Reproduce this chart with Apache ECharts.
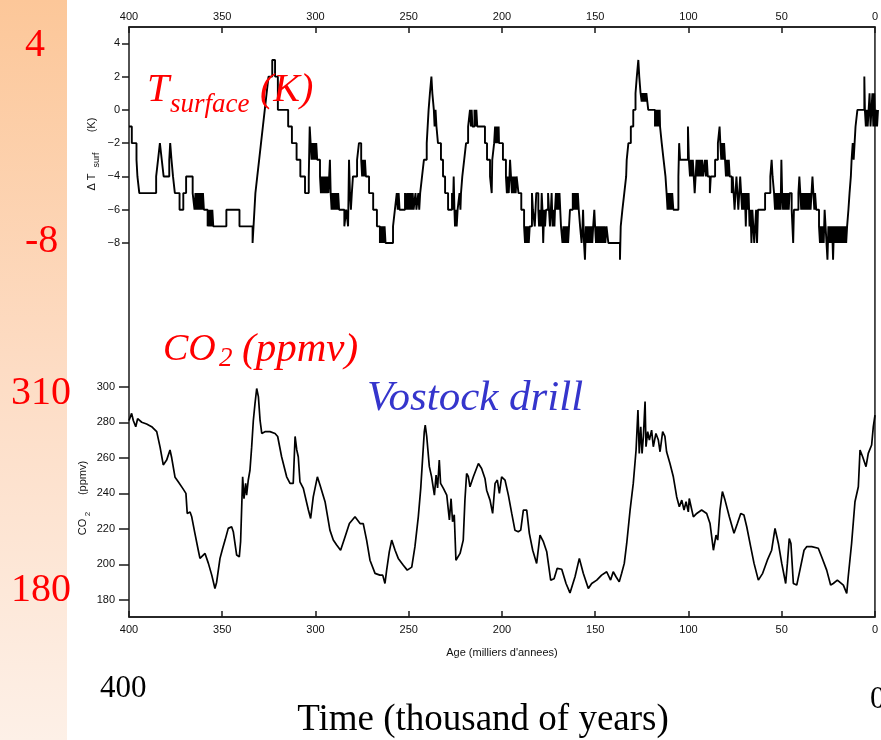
<!DOCTYPE html>
<html>
<head>
<meta charset="utf-8">
<script src="https://cdn.jsdelivr.net/npm/echarts@6/dist/echarts.min.js"></script>
<style>
  html, body { margin: 0; padding: 0; background: #ffffff; }
  #chart { width: 881px; height: 740px; }
</style>
</head>
<body>
<div id="chart"></div>
<script>
// Axis ranges and tick values
const ageTicks = [400, 350, 300, 250, 200, 150, 100, 50, 0];
const tempTicks = [-8, -6, -4, -2, 0, 2, 4];
const co2Ticks = [180, 200, 220, 240, 260, 280, 300];

// Vostok surface temperature anomaly, K, as steps: [age (kyr BP), value from that age onward]
const tempSteps = [
  [400,-1],[398.5,-2],[396,-3],[395.5,-4],[394.5,-5],[385.5,-4],[384.5,-3],[383.5,-2],[382.5,-3],[381.5,-4],
  [378.5,-3],[378,-2],[377.3,-3],[376.5,-4],[375.5,-5],[373,-6],[371,-5],[369.5,-4],[366,-5],[365,-6],
  [364.5,-5],[364,-6],[363.5,-5],[363,-6],[362.5,-5],[362,-6],[361.5,-5],[361,-6],[360.5,-5],[360,-6],
  [358,-7],[357.5,-6],[357,-7],[356.5,-6],[356,-7],[355.5,-6],[355,-7],[348,-6],[341,-7],[334,-8],
  [333,-6],[332.5,-5],[331.5,-4],[330.5,-3],[329.5,-2],[328.5,-1],[327.5,0],[326.5,1],[325.5,2],[323.5,3],
  [322,2],[320.5,0],[315,-1],[313,-2],[310.5,-3],[308.5,-4],[306,-5],[304,-4],[303.5,-1],[303,-2],
  [302.5,-3],[302,-2],[301.5,-3],[301,-2],[300.5,-3],[300,-2],[299.5,-3],[298,-4],[297.5,-5],[297,-4],
  [296.5,-5],[296,-4],[295.5,-5],[295,-4],[294.5,-5],[294,-4],[293.5,-5],[292.7,-3],[292.3,-5],[291.8,-6],
  [291.3,-5],[290.8,-6],[290.3,-5],[289.8,-6],[289.3,-5],[288.8,-6],[288.3,-5],[287.8,-6],[285,-7],[284,-6],
  [283,-7],[282.5,-3],[282,-5],[281.5,-6],[281,-5],[280.4,-4],[278.2,-3],[277.2,-2],[276,-3],[275.5,-4],
  [275,-3],[274.5,-4],[274,-3],[273.5,-4],[271.8,-5],[269.6,-6],[267.6,-7],[266,-8],[265.5,-7],[265,-8],
  [264.5,-7],[264,-8],[263.5,-7],[263,-8],[259,-7],[258,-6],[257,-5],[256.5,-6],[256,-5],[255.5,-6],
  [252.6,-5],[252,-6],[251.5,-5],[251,-6],[250.5,-5],[250,-6],[249.5,-5],[249,-6],[248.5,-5],[248,-6],
  [247,-5],[246.5,-6],[245.5,-5],[245,-6],[244.5,-5],[243.5,-4],[242.5,-3],[241,-2],[240,0],[239.3,1],
  [238.5,2],[238,1],[237.2,0],[236.8,-1],[236.3,0],[235.8,-1],[235,-2],[233.4,-3],[232.3,-4],[231.2,-5],
  [229.6,-6],[227.5,-5],[227,-6],[226.6,-4],[226.2,-6],[225.9,-7],[225.4,-6],[225,-7],[224.5,-6],[223.5,-5],
  [223,-6],[222.7,-5],[222,-4],[221,-3],[220,-2],[218.9,-1],[217.9,0],[217.4,-1],[217,0],[216.6,-1],
  [215.5,0],[215,-1],[214.5,0],[214,-1],[209.9,-2],[208.8,-3],[207.2,-4],[206.3,-5],[206,-3],[205,-2],
  [204.5,-1],[204,-2],[203.5,-1],[203,-2],[202.6,-1],[202.4,-2],[200.3,-3],[198.7,-4],[198.2,-5],[197.7,-4],
  [197.2,-5],[196.8,-4],[196.5,-3],[196,-4],[195.5,-5],[195,-4],[194.5,-5],[194,-4],[193.5,-5],[193,-4],
  [192,-5],[190.5,-6],[189,-7],[188.5,-8],[188,-7],[187.5,-8],[187,-7],[186.5,-8],[186,-7],[184.8,-5],
  [184.3,-6],[183.3,-7],[182.5,-5],[181.4,-6],[181,-7],[180.5,-6],[180,-7],[179.6,-5],[179.2,-6],[178.8,-8],
  [178.3,-6],[177.8,-7],[177.3,-6],[176.2,-5],[175.7,-6],[175.2,-7],[174.7,-6],[174.3,-5],[173.8,-7],[173.3,-6],
  [172.8,-7],[172.5,-6],[172,-5],[171.6,-6],[171.1,-5],[170.6,-6],[170.1,-5],[169.7,-6],[169.3,-7],[168.5,-8],
  [168,-7],[167.5,-8],[167,-7],[166.5,-8],[166,-7],[165.5,-8],[165,-7],[164.5,-6],[163,-5],[162.7,-6],
  [162.2,-5],[161.8,-6],[161.3,-5],[160.8,-6],[160.3,-5],[159.8,-6],[159.1,-7],[158.3,-8],[157.8,-7],[157.5,-6],
  [157,-8],[156.5,-9],[156,-7],[155.6,-8],[155.1,-7],[154.6,-8],[154.1,-7],[153.6,-8],[153.1,-7],[152.6,-8],
  [152.1,-7],[151.5,-6],[151.1,-7],[150.6,-8],[150.1,-7],[149.6,-8],[149.1,-7],[148.6,-8],[148.1,-7],[147.6,-8],
  [147.1,-7],[146.6,-8],[146.1,-7],[145.6,-8],[145,-7],[144,-8],[137.8,-9],[137.4,-7],[136.5,-6],[135.5,-5],
  [134.5,-4],[134.2,-3],[133.3,-2],[132,-1],[130.7,0],[129.5,1],[128.8,2],[128,3],[127.5,2],[126.8,1],
  [126.2,0.5],[125.7,1],[125.2,0.5],[124.7,1],[124.2,0.5],[123.7,1],[123.2,0.5],[122.7,0],[119.1,-1],[118.6,0],
  [118.1,-1],[117.6,0],[117.1,-1],[116.6,0],[116.4,-1],[115.5,-2],[114.5,-3],[113.5,-4],[112.9,-5],[112.4,-6],
  [111.9,-5],[111.4,-6],[110.9,-5],[110.4,-6],[109.9,-5],[109.3,-6],[106.6,-4],[106.2,-2],[105.7,-3],[101.5,-1],
  [101,-3],[100.4,-4],[99.9,-3],[99.4,-4],[98.9,-3],[98.4,-4],[97.9,-5],[97.4,-4],[96.9,-3],[96.4,-4],
  [95.9,-3],[95.4,-4],[94.9,-3],[94.4,-4],[93.9,-3],[93.4,-4],[92.4,-3],[91.9,-4],[91.4,-3],[90.9,-4],
  [89.8,-5],[89.3,-4],[87,-3],[85.5,-2],[84.6,-1],[84.2,-2],[83.7,-3],[83.2,-2],[82.7,-3],[82.2,-2],
  [81.7,-3],[81.2,-4],[80.7,-3],[80.2,-4],[79.7,-3],[79.2,-4],[78.1,-5],[77.6,-4],[77.1,-5],[76.6,-6],
  [76.1,-5],[75.6,-4],[75.1,-5],[74.6,-6],[74.1,-5],[73.6,-4],[73.1,-5],[72.6,-6],[72.1,-5],[71.6,-6],
  [71.1,-5],[70.6,-7],[70.1,-5],[69.6,-6],[69.1,-5],[68.6,-7],[68.1,-6],[67.6,-8],[67.1,-6],[66.6,-7],
  [66.1,-8],[65.6,-7],[65.1,-6],[64.6,-8],[64.1,-6],[60.3,-5],[57.5,-4],[56.8,-3],[56.3,-4],[55.5,-5],
  [55,-6],[54.5,-5],[54,-6],[53.5,-5],[53,-6],[52.5,-5],[52,-6],[51.6,-3],[51.2,-5],[50.7,-6],
  [50.2,-5],[49.7,-6],[49.2,-5],[48.7,-6],[48.2,-5],[47.7,-6],[47.2,-5],[46.1,-6],[45.3,-8],[44.9,-6],
  [42.5,-5],[42,-4],[41.5,-5],[41,-6],[40.5,-5],[40,-6],[39.5,-5],[39,-6],[38.5,-5],[38,-6],
  [37.5,-5],[37,-6],[36.5,-5],[36,-6],[35.5,-5],[35,-4],[34.5,-5],[34,-6],[33.6,-5],[33,-6],
  [31.5,-7],[31,-8],[30.5,-7],[30,-8],[29.5,-7],[29,-8],[28.5,-6],[28,-7],[27.5,-8],[27,-9],
  [26.5,-7],[26,-8],[25.5,-7],[25,-8],[24.5,-7],[24,-9],[23.5,-7],[23,-8],[22.5,-7],[22,-8],
  [21.5,-7],[21,-8],[20.5,-7],[20,-8],[19.5,-7],[19,-8],[18.5,-7],[18,-8],[17.5,-7],[17,-8],
  [16.5,-7],[15.8,-6],[15.2,-5],[14.5,-4],[14.1,-3],[13.5,-2],[13,-3],[12.5,-2],[12,-1],[11,0],
  [7.3,2],[7,0],[6.5,-1],[6,0],[5.5,-1],[5,0],[4.5,1],[4,-1],[3.5,0],[3,1],
  [2.5,-1],[2,1],[1.5,-1],[1,0],[0.5,-1],[0,0]
];

// Vostok CO2, ppmv: [age (kyr BP), concentration]
const co2Curve = [
  [400,281],[398.6,285],[397.7,281],[396.4,277.5],[395.4,282],[394.5,283],[393.2,280],[390.6,279],[387.9,277.5],[385.2,274.7],
  [383.4,266],[381.7,256],[379.9,258.7],[378.1,264.4],[377.2,260],[375.4,249],[373.7,246.5],[371.3,242.8],[369.6,240],[368.9,228.7],
  [367.4,229.5],[366.5,226.8],[364.8,217.5],[363,208],[362.1,203.4],[359.4,206.2],[357.6,200.6],[355.8,194],[354.1,186.5],[353.2,190],
  [351.4,203.4],[350,209],[348.7,213.7],[347,220.3],[345.2,221.2],[344.3,218.4],[342.5,205.3],[341.1,204.3],[340.4,212.8],[339.3,249.3],
  [338.6,237],[337.7,245.6],[337.2,239],[336.3,247.5],[335.4,253],[334.5,266],[333.6,281],[332.7,290.6],[331.8,299],[330.9,294.4],
  [330,281],[329.1,273.7],[327.4,274.7],[324.7,274.7],[322,273.7],[320.6,272],[318.5,260.6],[315.8,249.3],[314,245.6],[312.3,245.6],
  [311.3,272],[310.4,264.4],[309.6,260.6],[308.7,246.5],[306.9,242.8],[304.2,230.6],[303,225.9],[301.6,238],[299.4,249.3],[298,244.7],
  [295.3,235.3],[292.7,219.3],[290.9,213.7],[289.1,210.9],[287,208],[284.6,215.6],[282.3,223],[279.3,226.8],[276.6,223],[274.9,223],
  [273.1,213.7],[271.3,202.4],[268.6,195],[266,194],[264.5,194],[263.3,189.3],[262.4,196.8],[261,207.1],[259.7,213.7],[257.9,208],
  [256.2,203.4],[253.5,199.6],[251.4,196.8],[249,198.5],[247.3,210],[245.5,226.8],[244.2,242.8],[243.2,259.7],[242.3,274.7],[241.8,278.4],
  [241,272],[239.6,255],[238.4,249.3],[236.9,239],[236,250.3],[235.2,243],[234.3,258.7],[233.6,245.6],[232.1,242.8],[230.3,239],
  [228.9,225],[228,237],[227.2,224],[226.3,228],[225.4,202.4],[223.2,206.2],[221.5,213.7],[220.6,236.2],[219.7,251.2],[218.8,249.5],
  [217.9,243.7],[216.1,249.3],[213.4,256.8],[211.7,254],[209.9,248.4],[209,241.8],[207.2,236.2],[205.8,228.7],[204.5,245.6],[203.3,247.5],
  [202.2,240],[201,249.3],[199.2,247.5],[197.4,239],[195.6,228.7],[193.9,219.3],[192.1,218.4],[190.8,219.3],[189.4,230.6],[187.6,230.6],
  [186.2,217.5],[184.4,208],[182.3,200.6],[180.5,216.5],[178.7,212.8],[176.9,207.1],[174.8,191.2],[173,192],[171.3,197.8],[168.9,197.3],
  [166.6,189.3],[164.5,184],[161.8,193.1],[159.5,203.4],[157.4,195],[154.7,186.5],[152.9,189.3],[150.2,191.2],[147.6,194],[144.9,195.9],
  [142.8,191.2],[141.4,195.9],[139.9,193.1],[138.2,190.2],[136.9,195],[135.5,200.6],[134.2,211.8],[132.4,230.6],[130.7,245.6],[129.2,264.4],
  [128.2,286.9],[127.5,262.5],[126.7,277.5],[126,262.5],[125.3,272],[124.4,291.6],[123.9,266.2],[123,274.7],[122.1,270],[120.9,275.6],
  [120,266.2],[118.6,273.7],[117.3,270],[116.4,263.4],[115,274.7],[113.8,272],[112.9,263.4],[111.1,256.8],[109.3,249.3],[107.5,238],
  [106.1,232.5],[104.8,236.2],[103.6,230.6],[102.5,235.3],[101.3,229.6],[100.8,237.1],[98.6,226.8],[96.8,228.7],[94.2,230.6],[91.5,228.7],
  [89.7,223],[87.9,208],[86.5,216.5],[85.6,213.7],[84.4,230.6],[83.1,241],[81.7,236.2],[79.4,226.8],[76.9,217.5],[75.1,223],
  [73.3,228.7],[71.6,227.8],[70.1,221.2],[68,210],[66.2,200.6],[63.9,191.2],[61.6,195],[59.1,202.4],[56.8,208],[55,220.3],
  [53.2,211.8],[51.4,200.6],[49.3,189.3],[48.4,200.6],[47.4,214.6],[46.5,211.8],[45.2,189.3],[43.4,188.4],[41.7,196.8],[39.5,208],
  [38.1,210],[35.4,210],[31.9,209.1],[30.1,204.3],[27.4,196.8],[25.3,188.4],[23.9,189.3],[21.7,191.2],[18.5,188.4],[16.7,183.7],
  [15.9,193.1],[14.1,211.8],[12.3,235.3],[10.5,243.7],[9.6,264.4],[8.2,260.6],[6.4,255],[5.2,262.5],[3.4,267.2],[2.5,277.5],
  [1.6,284]
];

const ink = '#1a1a1a';
const tickFont = "'Liberation Sans Narrow', 'Liberation Sans', Arial, sans-serif";
const serif = "'Liberation Serif', 'Times New Roman', serif";
const minusSign = v => String(v).replace('-', '\u2212');

function ageAxis(grid, pos, extra) {
  return Object.assign({
    gridIndex: grid, type: 'value', position: pos, inverse: true,
    min: ageTicks[ageTicks.length - 1], max: ageTicks[0], interval: ageTicks[0] - ageTicks[1],
    axisLine: { show: true, onZero: false, lineStyle: { color: ink, width: 1.5 } },
    axisTick: { show: true, inside: true, length: 6, lineStyle: { color: ink, width: 1.5 } },
    axisLabel: { fontSize: 11, color: '#111', fontFamily: tickFont, margin: 5 },
    splitLine: { show: false }
  }, extra || {});
}
function hiddenAgeAxis(grid) {
  return { gridIndex: grid, type: 'value', inverse: true,
    min: ageTicks[ageTicks.length - 1], max: ageTicks[0], show: false };
}

// helper for free-standing text
function txt(text, x, y, size, color, opts) {
  const o = opts || {};
  return {
    type: 'text', x: x, y: y, rotation: o.rotation || 0, z: 100,
    style: {
      text: text, fill: color,
      font: (o.italic ? 'italic ' : '') + size + 'px ' + (o.family || serif),
      align: o.align || 'left', verticalAlign: 'middle'
    }
  };
}

const chart = echarts.init(document.getElementById('chart'));

const option = {
  animation: false,
  backgroundColor: '#ffffff',
  grid: [
    { left: 129, width: 749, top: 27, height: 590, show: true, borderColor: ink, borderWidth: 1.5, backgroundColor: 'transparent' },
    { left: 129, width: 749, top: 43.3, height: 199.7 },
    { left: 129, width: 749, top: 386.7, height: 213.3 }
  ],
  xAxis: [
    ageAxis(0, 'top'),
    ageAxis(0, 'bottom', {
      axisLabel: { fontSize: 11, color: '#111', fontFamily: tickFont, margin: 7 },
      name: "Age (milliers d'annees)", nameLocation: 'middle', nameGap: 30,
      nameTextStyle: { fontSize: 11, color: '#111', fontFamily: tickFont }
    }),
    hiddenAgeAxis(1),
    hiddenAgeAxis(2)
  ],
  yAxis: [
    { gridIndex: 0, type: 'value', min: 0, max: 1, show: false },
    {
      gridIndex: 1, type: 'value', position: 'left', min: tempTicks[0], max: tempTicks[tempTicks.length - 1],
      interval: tempTicks[1] - tempTicks[0],
      axisLine: { show: false, onZero: false },
      axisTick: { show: true, length: 7, lineStyle: { color: ink, width: 1.5 } },
      axisLabel: { fontSize: 11, color: '#111', fontFamily: tickFont, margin: 9, formatter: minusSign },
      splitLine: { show: false }
    },
    {
      gridIndex: 2, type: 'value', position: 'left', min: co2Ticks[0], max: co2Ticks[co2Ticks.length - 1],
      interval: co2Ticks[1] - co2Ticks[0],
      axisLine: { show: false, onZero: false },
      axisTick: { show: true, length: 10, lineStyle: { color: ink, width: 1.5 } },
      axisLabel: { fontSize: 11, color: '#111', fontFamily: tickFont, margin: 14 },
      splitLine: { show: false }
    }
  ],
  series: [
    {
      name: 'Tsurf', type: 'line', xAxisIndex: 2, yAxisIndex: 1, data: tempSteps,
      step: 'end', symbol: 'none', clip: false,
      lineStyle: { color: '#000', width: 1.9 }
    },
    {
      name: 'CO2', type: 'line', xAxisIndex: 3, yAxisIndex: 2, data: co2Curve,
      symbol: 'none', clip: false,
      lineStyle: { color: '#000', width: 1.7 }
    }
  ],
  graphic: [
    {
      type: 'rect', z: -10, shape: { x: 0, y: 0, width: 67, height: 740 },
      style: {
        fill: new echarts.graphic.LinearGradient(0, 0, 0, 1, [
          { offset: 0, color: '#fcc799' },
          { offset: 0.5, color: '#fddcc4' },
          { offset: 1, color: '#fdf0e7' }
        ])
      }
    },
    // y-axis titles
    txt('\u0394 T', 92, 182, 11, '#111', { family: tickFont, rotation: Math.PI / 2, align: 'center' }),
    txt('surf', 96.5, 160, 9, '#111', { family: tickFont, rotation: Math.PI / 2, align: 'center' }),
    txt('(K)', 92, 125, 11, '#111', { family: tickFont, rotation: Math.PI / 2, align: 'center' }),
    txt('CO', 83, 527, 11, '#111', { family: tickFont, rotation: Math.PI / 2, align: 'center' }),
    txt('2', 87.5, 514, 8, '#111', { family: tickFont, rotation: Math.PI / 2, align: 'center' }),
    txt('(ppmv)', 83, 478, 11, '#111', { family: tickFont, rotation: Math.PI / 2, align: 'center' }),
    // red scale notes on the side band
    txt('4', 25, 45, 40, '#ff0000'),
    txt('-8', 25, 241, 40, '#ff0000'),
    txt('310', 11, 393, 40, '#ff0000'),
    txt('180', 11, 590, 40, '#ff0000'),
    // panel titles
    txt('T', 147, 90, 40, '#ff0000', { italic: true }),
    txt('surface', 170, 105, 27, '#ff0000', { italic: true }),
    txt('(K)', 260, 90, 40, '#ff0000', { italic: true }),
    txt('CO', 163, 350, 38, '#ff0000', { italic: true }),
    txt('2', 219, 359, 27, '#ff0000', { italic: true }),
    txt('(ppmv)', 242, 350, 41, '#ff0000', { italic: true }),
    txt('Vostock drill', 367, 399, 43, '#3535cc', { italic: true }),
    // time axis caption
    txt('400', 100, 689, 31, '#000'),
    txt('0', 870, 700, 31, '#000'),
    txt('Time (thousand of years)', 483, 720, 37, '#000', { align: 'center' })
  ]
};

chart.setOption(option);
</script>
</body>
</html>
